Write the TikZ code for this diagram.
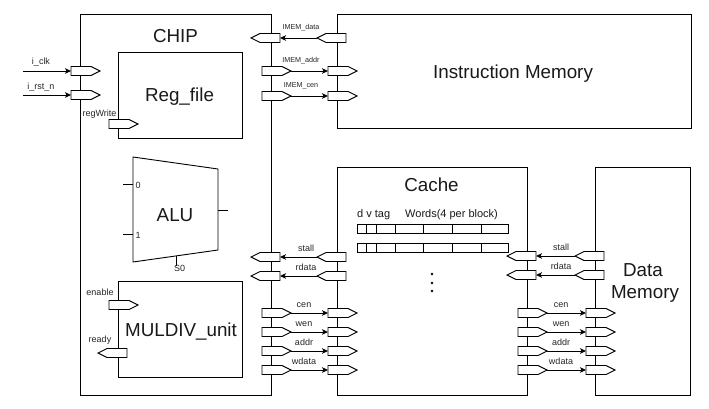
\documentclass[tikz,border=0pt]{standalone}
\usepackage{fontspec}
\setmainfont{Liberation Sans}
\usetikzlibrary{arrows.meta}
\tikzset{
  box/.style={draw=black, line width=0.9pt},
  port/.style={draw=black, fill=white, line width=0.9pt, line join=miter},
  sig/.style={draw=black, line width=0.9pt, -{Stealth[length=6pt,width=5.5pt,inset=1.5pt]}},
  title/.style={font=\fontsize{18.8}{22}\selectfont, anchor=base, inner sep=0pt, text=black!90},
  lbl/.style={font=\fontsize{9}{10}\selectfont, anchor=base, inner sep=0pt, text=black!85},
  ilbl/.style={font=\fontsize{7.2}{9}\selectfont, anchor=base, inner sep=0pt, text=black!85},
  small/.style={font=\fontsize{11}{12}\selectfont, anchor=base west, inner sep=0pt, text=black!90},
}
\newcommand\myportR[3]{%
  \draw[port] ({#2-9},{#3-4.5}) -- ({#2+11},{#3-4.5}) -- ({#2+20},#3) -- ({#2+11},{#3+4.5}) -- ({#2-9},{#3+4.5}) -- cycle;
  \coordinate (#1-in) at ({#2-9},#3);
  \coordinate (#1-out) at ({#2+20},#3);}
\newcommand\myportL[3]{%
  \draw[port] ({#2+9},{#3-4.5}) -- ({#2-11},{#3-4.5}) -- ({#2-20},#3) -- ({#2-11},{#3+4.5}) -- ({#2+9},{#3+4.5}) -- cycle;
  \coordinate (#1-in) at ({#2+9},#3);
  \coordinate (#1-out) at ({#2-20},#3);}
\begin{document}
\begin{tikzpicture}[x=1pt,y=-1pt]
\fill[white] (0,0) rectangle (709,409);
\useasboundingbox (0,0) rectangle (709,409);

% main boxes
\draw[box] (80,14) rectangle (271,395);
\draw[box] (337,14) rectangle (691,128);
\draw[box] (337,167) rectangle (527,395);
\draw[box] (595,167) rectangle (690,395);
\draw[box] (118,52) rectangle (242,138);
\draw[box] (118,281) rectangle (242,377);

% ALU
\draw[box, line join=miter] (133,157) -- (218,169) -- (218,250) -- (133,262) -- cycle;
\draw[box] (123,184) -- (133,184);
\draw[box] (123,234) -- (133,234);
\draw[box] (218,210) -- (228,210);
\draw[box] (176,256) -- (176,266);
\node[lbl, anchor=base west] (alu0) at (135.5,188) {0};
\node[lbl, anchor=base west] (alu1) at (135.5,238) {1};
\node[lbl, anchor=base west] (alus) at (174,271) {S0};

% titles
\node[title] (chip) at (175.5,42.7) {CHIP};
\node[title] (reg) at (179.5,101.7) {Reg\_file};
\node[title] (alu) at (175,221.7) {ALU};
\node[title] (mul) at (181,336) {MULDIV\_unit};
\node[title] (im) at (513,78.3) {Instruction Memory};
\node[title] (cache) at (431.5,191.7) {Cache};
\node[title] (dm1) at (643,276.7) {Data};
\node[title] (dm2) at (645,298.7) {Memory};

% cache contents
\node[small] (dvt) at (357,217) {d v tag};
\node[small] (wds) at (405,217) {Words(4 per block)};
\foreach \ry in {224,243}{
  \draw[line width=0.9pt] (357,\ry) rectangle (508,\ry+9);
  \foreach \dx in {366,376,395,423,452,481}
    \draw[line width=0.9pt] (\dx,\ry) -- (\dx,\ry+9);
}
\foreach \dy in {274,283,291}
  \fill (432,\dy) circle[radius=1.4pt];

% CHIP external inputs
\coordinate (clksrc) at (23,71);
\coordinate (rstsrc) at (23,95);
\myportR{clk}{80}{71}
\myportR{rst}{80}{95}
\draw[sig] (clksrc) -- (clk-in);
\draw[sig] (rstsrc) -- (rst-in);
\node[lbl] (lclk) at (41,65) {i\_clk};
\node[lbl] (lrst) at (41,89.5) {i\_rst\_n};

% inner ports
\myportR{rw}{118}{124}
\node[lbl] (lrw) at (99.5,116.5) {regWrite};
\myportR{en}{118}{305}
\node[lbl] (len) at (100,295.7) {enable};
\myportL{rd}{118}{353}
\node[lbl] (lrd) at (100,342) {ready};

% CHIP <-> Instruction Memory
\myportL{cIMd}{271}{38}
\myportL{iIMd}{337}{38}
\draw[sig] (iIMd-out) -- (cIMd-in);
\node[ilbl] (limd) at (301,30) {IMEM\_data};
\myportR{cIMa}{271}{71}
\myportR{iIMa}{337}{71}
\draw[sig] (cIMa-out) -- (iIMa-in);
\node[ilbl] (lima) at (301,62.5) {IMEM\_addr};
\myportR{cIMc}{271}{96}
\myportR{iIMc}{337}{96}
\draw[sig] (cIMc-out) -- (iIMc-in);
\node[ilbl] (limc) at (301,87.5) {IMEM\_cen};

% CHIP <-> Cache, Cache <-> Data Memory (inputs to CHIP)
\foreach \nm/\yy in {stall/257,rdata/276}{
  \myportL{c\nm}{271}{\yy}
  \myportL{k\nm}{337}{\yy}
  \draw[sig] (k\nm-out) -- (c\nm-in);
  \node[lbl] (lc\nm) at (306,\yy-6) {\nm};
  \myportL{kr\nm}{527}{\yy-1}
  \myportL{d\nm}{595}{\yy-1}
  \draw[sig] (d\nm-out) -- (kr\nm-in);
  \node[lbl] (ld\nm) at (561,\yy-7) {\nm};
}
\foreach \nm/\yy in {cen/313,wen/332,addr/351,wdata/370}{
  \myportR{c\nm}{271}{\yy}
  \myportR{k\nm}{337}{\yy}
  \draw[sig] (c\nm-out) -- (k\nm-in);
  \node[lbl] (lc\nm) at (304,\yy-6) {\nm};
  \myportR{kr\nm}{527}{\yy}
  \myportR{d\nm}{595}{\yy}
  \draw[sig] (kr\nm-out) -- (d\nm-in);
  \node[lbl] (ld\nm) at (561,\yy-6) {\nm};
}
\end{tikzpicture}
\end{document}
